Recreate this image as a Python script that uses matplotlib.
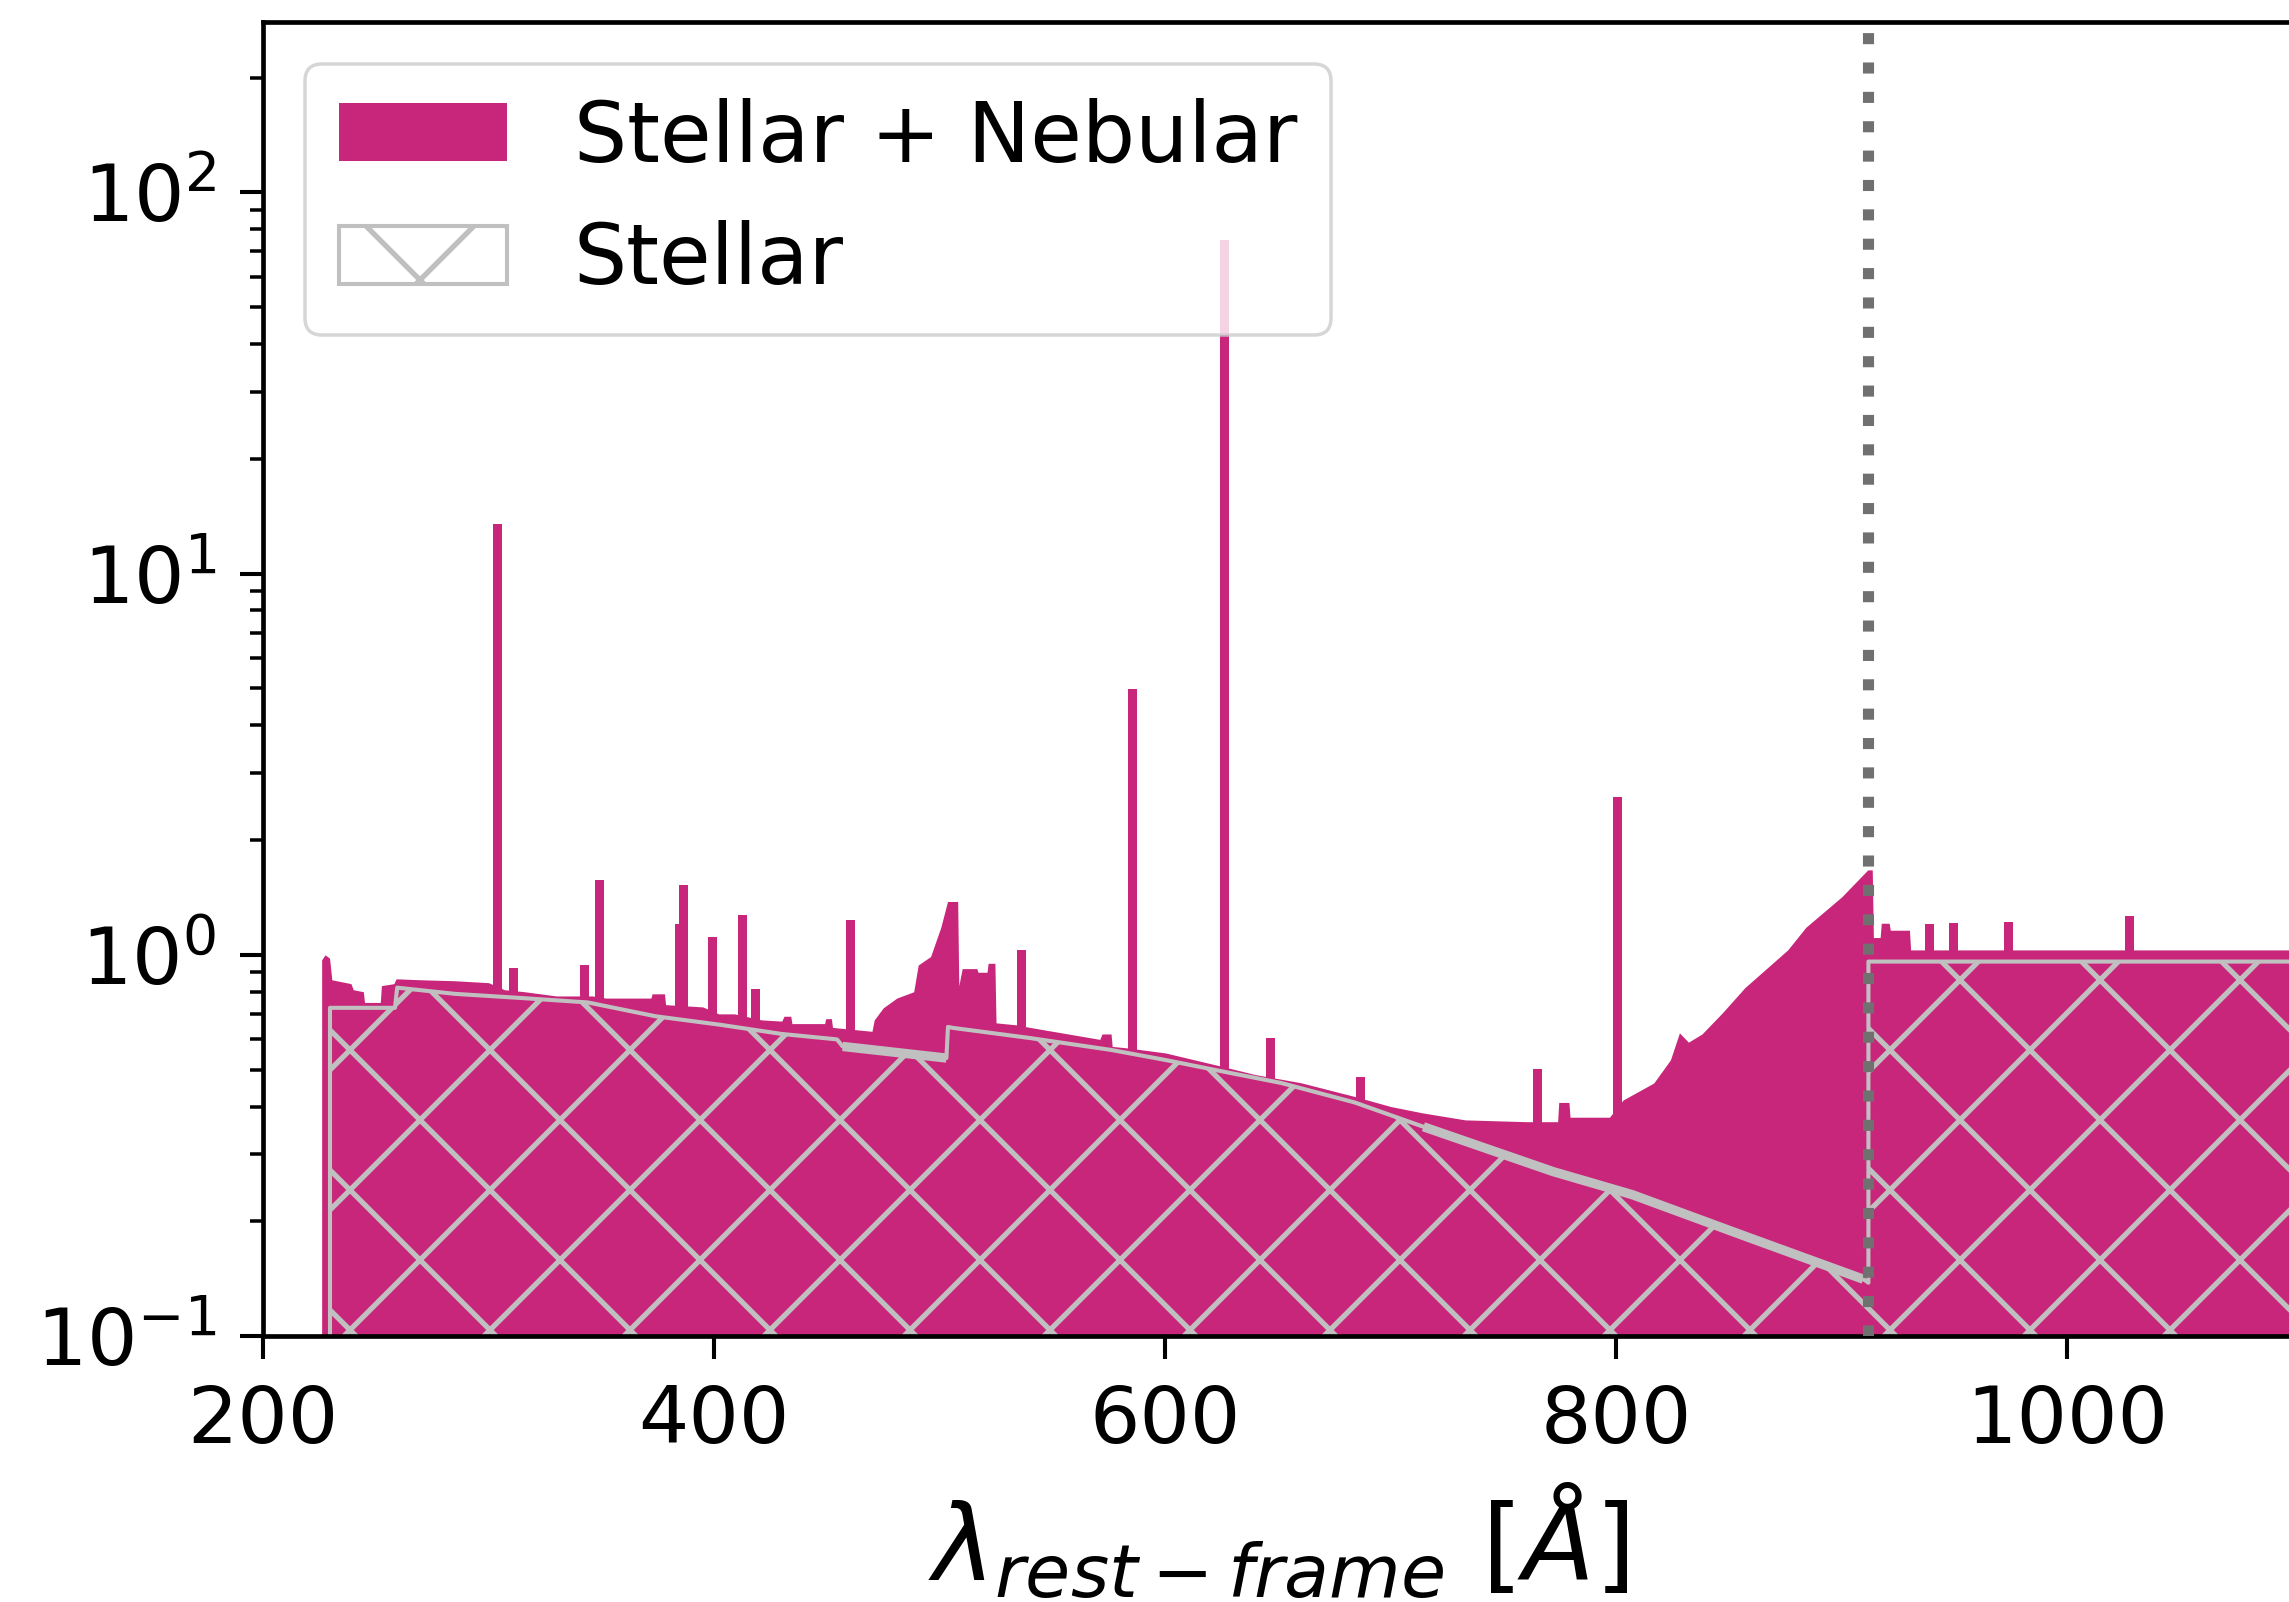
import numpy as np
import matplotlib
matplotlib.use("Agg")
import matplotlib.pyplot as plt
from matplotlib.patches import Patch

# Stellar + nebular continuum (rest-frame wavelength in Angstrom, flux)
neb_wl = [226, 227.5, 229.5, 230.5, 239, 240, 244.5, 245, 252, 252.5, 258, 259,
          270, 285, 300, 307, 316, 330, 346, 352, 362, 372, 372.5, 378, 378.5,
          395, 402, 409, 421, 430, 431, 434, 434.5, 449, 449.5, 452, 452.5, 470,
          471, 475, 481, 488.5, 490.5, 496, 500.5, 503.5, 508, 508.5, 510, 516.5,
          517, 521, 521.5, 524.5, 525, 534, 540, 571, 572, 576, 576.5, 583, 600,
          625, 640, 660, 684, 700, 714, 733, 760, 774, 774.5, 779, 779.5, 797,
          803, 816.6, 824, 828, 832, 838, 847, 857, 876, 884, 900, 911.5, 913.5,
          914, 917, 917.5, 921, 921.5, 930, 930.5, 1100]
neb_flux = [0.97, 1.0, 0.98, 0.86, 0.84, 0.81, 0.80, 0.75, 0.75, 0.83, 0.84, 0.865,
            0.86, 0.855, 0.845, 0.81, 0.80, 0.78, 0.78, 0.77, 0.77, 0.77, 0.79, 0.79, 0.74,
            0.73, 0.70, 0.70, 0.675, 0.67, 0.69, 0.69, 0.66, 0.66, 0.68, 0.68, 0.645, 0.63,
            0.675, 0.726, 0.77, 0.80, 0.94, 0.99, 1.18, 1.38, 1.38, 0.83, 0.92, 0.92,
            0.90, 0.90, 0.95, 0.95, 0.663, 0.655, 0.645, 0.60, 0.62, 0.62, 0.575, 0.57, 0.553,
            0.51, 0.485, 0.462, 0.425, 0.40, 0.385, 0.369, 0.365, 0.365, 0.41, 0.41, 0.375, 0.375,
            0.416, 0.461, 0.53, 0.624, 0.59, 0.62, 0.704, 0.82, 1.03, 1.18, 1.42, 1.67, 1.67,
            1.11, 1.11, 1.21, 1.21, 1.16, 1.16, 1.03, 1.03]

# Nebular emission lines (centre, peak flux)
line_wl = [304, 311, 342.5, 349, 384.5, 386.5, 399.5, 412.5, 418.5, 460.5, 536.5,
           585.5, 626.5, 646.5, 686.5, 765, 800.5, 939, 949.5, 974, 1027.5]
line_peak = [13.5, 0.92, 0.94, 1.57, 1.2, 1.52, 1.115, 1.27, 0.81, 1.235, 1.03,
             4.98, 75, 0.605, 0.478, 0.50, 2.6, 1.2, 1.21, 1.22, 1.26]

# Pure stellar continuum
st_wl = [229.7, 258.5, 259.5, 285, 315, 344, 374, 403, 430, 454.5, 457, 503,
         503.7, 506, 540, 576, 600, 625, 651.5, 684, 714.5, 772, 807, 858, 909.5,
         911.8, 911.8, 1100]
st_flux = [0.726, 0.726, 0.82, 0.79, 0.77, 0.75, 0.69, 0.655, 0.62, 0.60, 0.575, 0.536,
           0.647, 0.643, 0.605, 0.563, 0.53, 0.495, 0.461, 0.41, 0.354, 0.27, 0.235, 0.182, 0.141,
           0.138, 0.96, 0.96]

lyman_limit = 911.8

magenta = "#C8267A"
silver = "#C0C0C0"

plt.rcParams["hatch.linewidth"] = 0.45
plt.rcParams["font.size"] = 6.8

fig = plt.figure(figsize=(2289 / 840, 1602 / 840), dpi=840)
ax = fig.add_axes([0.1149, 0.166, 0.8868, 0.8204])

ax.fill_between(neb_wl, neb_flux, 1e-3, color=magenta, lw=0, zorder=1)
ax.bar(line_wl, line_peak, width=4.0, bottom=1e-3, color=magenta, lw=0, zorder=1)

ax.fill_between(st_wl, st_flux, 1e-3, facecolor="none", edgecolor=silver,
                hatch="xx", lw=0.35, zorder=2)

# denser absorption structure shows up as a heavier stellar edge here
st_wl_a = np.array(st_wl)
st_fl_a = np.array(st_flux)
for lo, hi in [(457, 503), (714.5, 911.0)]:
    m = (st_wl_a >= lo) & (st_wl_a <= hi)
    ax.plot(st_wl_a[m], st_fl_a[m], color=silver, lw=0.8, zorder=2,
            solid_capstyle="butt")

ax.axvline(lyman_limit, color="#707070", ls=":", lw=0.95, zorder=3)

ax.set_yscale("log")
ax.set_xlim(200, 1100)
ax.set_ylim(0.1, 280)
ax.set_xticks([200, 400, 600, 800, 1000])
ax.set_xlabel(r"$\lambda_{rest-frame}$ [$\AA$]", fontsize=9, labelpad=2)

for s in ax.spines.values():
    s.set_linewidth(0.4)
ax.tick_params(which="major", length=2.0, width=0.35, pad=2)
ax.tick_params(which="minor", length=1.1, width=0.3)

handles = [Patch(facecolor=magenta, edgecolor="none", label="Stellar + Nebular"),
           Patch(facecolor="none", edgecolor=silver, hatch="xx", lw=0.35, label="Stellar")]
leg = ax.legend(handles=handles, loc="upper left", fontsize=7.2)
leg.get_frame().set_linewidth(0.3)

fig.savefig("out.png", dpi=840)
